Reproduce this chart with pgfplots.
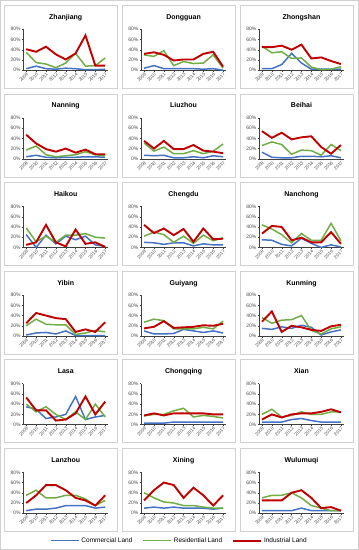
\documentclass[border=0pt]{standalone}
\usepackage{pgfplots}
\pgfplotsset{compat=1.18}
\usepgfplotslibrary{groupplots}
\usepackage{pgfplotstable}
\usepackage{fontspec}
\setmainfont{Liberation Sans}
\definecolor{cblue}{HTML}{4472C4}
\definecolor{cgreen}{HTML}{70AD47}
\definecolor{cred}{HTML}{C00000}
\definecolor{frame}{HTML}{D0D0D0}

% columns: x = year index (0 = 2009), c = commercial, r = residential, i = industrial (percent)
\pgfplotstableread{
x c r i
0 3 35 41
1 8 15 36
2 3 12 46
3 2 5 31
4 4 14 21
5 3 33 33
6 1 8 68
7 1 9 9
8 2 24 9
}\Zhanjiang
\pgfplotstableread{
x c r i
0 4 30 32
1 9 27 35
2 3 38 30
3 3 9 19
4 3 17 21
5 3 13 21
6 2 14 32
7 3 30 36
8 0 4 7
}\Dongguan
\pgfplotstableread{
x c r i
0 3 47 45
1 3 34 45
2 11 36 48
3 33 23 40
4 14 24 50
5 2 6 23
6 2 1 25
7 2 2 18
8 2 7 12
}\Zhongshan
\pgfplotstableread{
x c r i
0 4 17 47
1 7 25 30
2 3 8 19
3 2 4 14
4 3 6 20
5 3 8 12
6 4 14 18
7 4 8 9
8 3 6 9
}\Nanning
\pgfplotstableread{
x c r i
0 7 31 35
1 6 15 20
2 7 23 35
3 2 10 19
4 2 10 19
5 4 16 27
6 2 10 16
7 6 15 14
8 4 29 11
}\Liuzhou
\pgfplotstableread{
x c r i
0 13 26 54
1 3 33 41
2 2 28 51
3 2 9 38
4 5 17 42
5 5 16 44
6 4 7 23
7 6 28 10
8 2 16 27
}\Beihai
\pgfplotstableread{
x c r i
0 25 38 5
1 0 11 10
2 24 22 44
3 7 10 10
4 22 24 2
5 15 24 35
6 22 27 7
7 5 20 10
8 2 18 1
}\Haikou
\pgfplotstableread{
x c r i
0 10 22 44
1 9 30 28
2 6 25 37
3 9 10 24
4 9 22 36
5 3 8 11
6 7 24 37
7 5 13 16
8 5 19 17
}\Chengdu
\pgfplotstableread{
x c r i
0 15 44 27
1 14 36 42
2 6 25 40
3 3 9 14
4 18 27 19
5 8 14 10
6 0 14 10
7 5 47 30
8 1 13 7
}\Nanchong
\pgfplotstableread{
x c r i
0 2 20 25
1 6 33 45
2 7 23 40
3 4 22 35
4 10 22 33
5 1 3 8
6 1 6 13
7 1 11 8
8 1 8 27
}\Yibin
\pgfplotstableread{
x c r i
0 10 27 15
1 4 33 18
2 4 30 29
3 5 14 16
4 13 14 17
5 10 14 18
6 7 17 21
7 10 14 20
8 6 29 24
}\Guiyang
\pgfplotstableread{
x c r i
0 15 36 28
1 13 25 48
2 18 31 8
3 15 32 20
4 21 40 17
5 17 11 12
6 2 4 10
7 8 14 19
8 12 18 22
}\Kunming
\pgfplotstableread{
x c r i
0 35 40 53
1 30 25 28
2 12 35 28
3 15 20 8
4 20 10 10
5 55 25 22
6 10 10 55
7 15 40 20
8 18 15 45
}\Lasa
\pgfplotstableread{
x c r i
0 3 17 18
1 3 20 22
2 3 20 18
3 5 27 22
4 5 32 22
5 5 15 22
6 5 18 22
7 5 16 20
8 5 13 20
}\Chongqing
\pgfplotstableread{
x c r i
0 5 20 10
1 5 30 20
2 5 15 14
3 10 18 20
4 12 25 22
5 8 20 22
6 5 20 25
7 5 25 30
8 5 25 24
}\Xian
\pgfplotstableread{
x c r i
0 5 35 20
1 8 45 35
2 8 30 55
3 10 30 55
4 15 35 45
5 15 35 30
6 15 28 25
7 10 15 15
8 12 25 35
}\Lanzhou
\pgfplotstableread{
x c r i
0 10 40 25
1 12 30 45
2 10 22 60
3 12 20 55
4 10 15 30
5 10 15 50
6 10 12 35
7 8 10 15
8 10 10 35
}\Xining
\pgfplotstableread{
x c r i
0 5 30 25
1 5 35 25
2 5 35 25
3 5 40 40
4 10 30 45
5 5 15 30
6 5 10 10
7 5 5 12
8 5 5 5
}\Wulumuqi

\newcommand{\city}[2]{%
  \nextgroupplot[title={#1}]
  \addplot[cblue, line width=1.5pt] table[x=x, y=c] {#2};
  \addplot[cgreen, line width=1.5pt] table[x=x, y=r] {#2};
  \addplot[cred, line width=1.9pt] table[x=x, y=i] {#2};
}

\begin{document}
\begin{tikzpicture}
\begin{groupplot}[
  group style={group size=3 by 6, horizontal sep=33pt, vertical sep=47.7pt},
  width=85pt, height=41pt, scale only axis,
  xmin=-0.3, xmax=8.3, ymin=0, ymax=80,
  axis lines*=left,
  axis line style={black!75, line width=0.5pt},
  xtick={0,1,2,3,4,5,6,7,8},
  xticklabels={2009,2010,2011,2012,2013,2014,2015,2016,2017},
  ytick={0,20,40,60,80},
  yticklabels={0\%,20\%,40\%,60\%,80\%},
  tick align=outside, major tick length=1.5pt,
  tick style={black!75, line width=0.4pt},
  x tick label style={rotate=45, anchor=north east, inner sep=0.3pt,
     font=\fontsize{4.6}{5}\selectfont, text=black!70},
  y tick label style={inner sep=1pt, font=\fontsize{5}{6}\selectfont, text=black!70},
  title style={at={(0.5,1)}, anchor=base, yshift=4pt, inner sep=0pt,
     font=\bfseries\fontsize{7}{8}\selectfont},
  no marks,
  after end axis/.code={
    \draw[frame, line width=0.6pt] ([shift={(-19pt,24pt)}]rel axis cs:0,1) rectangle ([shift={(9pt,-18pt)}]rel axis cs:1,0);
  },
]
\city{Zhanjiang}{\Zhanjiang}
\city{Dongguan}{\Dongguan}
\city{Zhongshan}{\Zhongshan}
\city{Nanning}{\Nanning}
\city{Liuzhou}{\Liuzhou}
\city{Beihai}{\Beihai}
\city{Haikou}{\Haikou}
\city{Chengdu}{\Chengdu}
\city{Nanchong}{\Nanchong}
\city{Yibin}{\Yibin}
\city{Guiyang}{\Guiyang}
\city{Kunming}{\Kunming}
\city{Lasa}{\Lasa}
\city{Chongqing}{\Chongqing}
\city{Xian}{\Xian}
\city{Lanzhou}{\Lanzhou}
\nextgroupplot[title={Xining},
  legend style={at={(0.45,-0.67)}, anchor=center, legend columns=3, draw=none, fill=none,
    font=\fontsize{6.5}{7}\selectfont, inner sep=0pt,
    /tikz/every even column/.append style={column sep=8pt}},
  legend image code/.code={\draw[#1] (0pt,0pt) -- (28pt,0pt);}]
  \addplot[cblue, line width=1.5pt] table[x=x, y=c] {\Xining};
  \addplot[cgreen, line width=1.5pt] table[x=x, y=r] {\Xining};
  \addplot[cred, line width=1.9pt] table[x=x, y=i] {\Xining};
  \legend{Commercial Land, Residential Land, Industrial Land}
\city{Wulumuqi}{\Wulumuqi}
\end{groupplot}
\draw[frame, line width=0.6pt] ([shift={(-23pt,29pt)}]group c1r1.north west) rectangle ([shift={(14pt,-36.5pt)}]group c3r6.south east);
\end{tikzpicture}
\end{document}
